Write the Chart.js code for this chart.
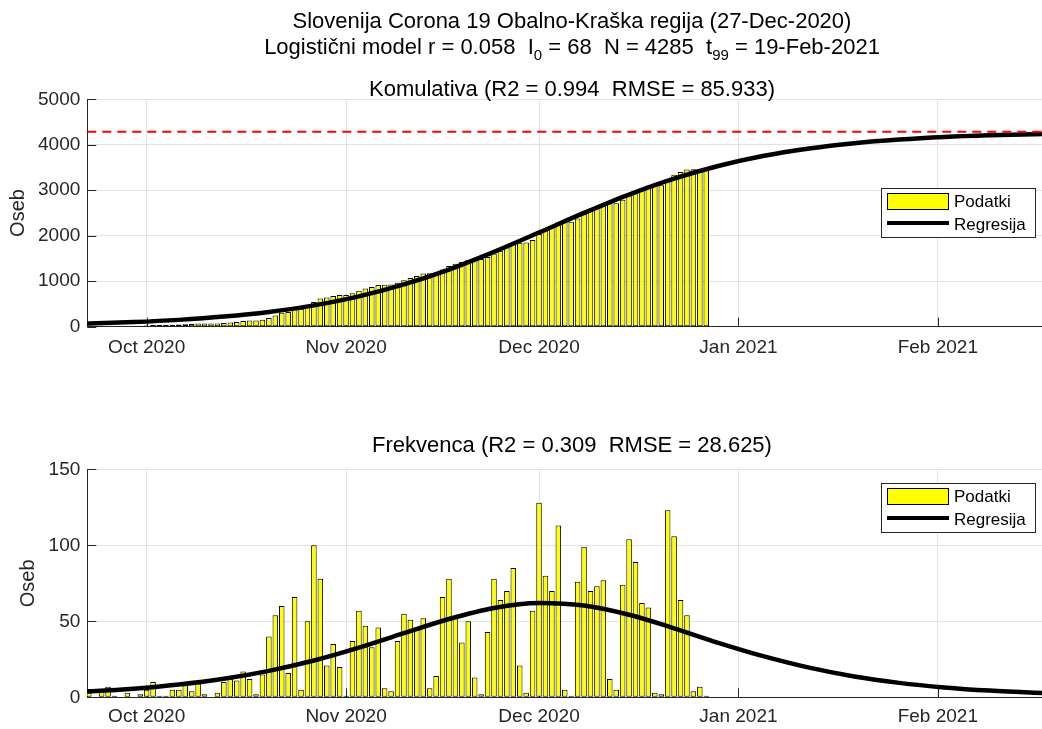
<!DOCTYPE html>
<html><head><meta charset="utf-8">
<script src="https://cdn.jsdelivr.net/npm/chart.js@4.4.1/dist/chart.umd.min.js"></script>
<style>
html,body{margin:0;padding:0;background:#fff;overflow:hidden;width:1042px;height:729px;}
#wrap{position:relative;width:1042px;height:729px;overflow:hidden;}
canvas{position:absolute;left:0;}
.t{position:absolute;left:72px;width:1000px;text-align:center;font-family:'Liberation Sans',Arial,sans-serif;font-size:22px;line-height:26px;color:#000;white-space:pre;}
.t sub{font-size:15px;line-height:0;vertical-align:-6px;}
</style></head>
<body><div id="wrap">
<canvas id="c1" width="1057" height="370" style="top:0;width:1057px;height:370px"></canvas>
<canvas id="c2" width="1057" height="329" style="top:400px;width:1057px;height:329px"></canvas>
<div class="t" style="top:8px">Slovenija Corona 19 Obalno-Kraška regija (27-Dec-2020)</div>
<div class="t" style="top:34px">Logistični model r = 0.058  I<sub>0</sub> = 68  N = 4285  t<sub>99</sub> = 19-Feb-2021</div>
<div class="t" style="top:76px">Komulativa (R2 = 0.994  RMSE = 85.933)</div>
<div class="t" style="top:432px">Frekvenca (R2 = 0.309  RMSE = 28.625)</div>
</div>
<script>
// ---- data ----
const ORIGIN = '2020-09-22';           // model day 0 (t0)
const dates = [
 '2020-09-22','2020-09-23','2020-09-24','2020-09-25','2020-09-26','2020-09-27','2020-09-28','2020-09-29','2020-09-30',
 '2020-10-01','2020-10-02','2020-10-03','2020-10-04','2020-10-05','2020-10-06','2020-10-07','2020-10-08','2020-10-09','2020-10-10',
 '2020-10-11','2020-10-12','2020-10-13','2020-10-14','2020-10-15','2020-10-16','2020-10-17','2020-10-18','2020-10-19','2020-10-20',
 '2020-10-21','2020-10-22','2020-10-23','2020-10-24','2020-10-25','2020-10-26','2020-10-27','2020-10-28','2020-10-29','2020-10-30','2020-10-31',
 '2020-11-01','2020-11-02','2020-11-03','2020-11-04','2020-11-05','2020-11-06','2020-11-07','2020-11-08','2020-11-09','2020-11-10',
 '2020-11-11','2020-11-12','2020-11-13','2020-11-14','2020-11-15','2020-11-16','2020-11-17','2020-11-18','2020-11-19','2020-11-20',
 '2020-11-21','2020-11-22','2020-11-23','2020-11-24','2020-11-25','2020-11-26','2020-11-27','2020-11-28','2020-11-29','2020-11-30',
 '2020-12-01','2020-12-02','2020-12-03','2020-12-04','2020-12-05','2020-12-06','2020-12-07','2020-12-08','2020-12-09','2020-12-10',
 '2020-12-11','2020-12-12','2020-12-13','2020-12-14','2020-12-15','2020-12-16','2020-12-17','2020-12-18','2020-12-19','2020-12-20',
 '2020-12-21','2020-12-22','2020-12-23','2020-12-24','2020-12-25','2020-12-26','2020-12-27'
];
const cumulative = [
 3,3,7,14,15,15,18,18,20,
 25,35,36,37,42,47,55,59,68,70, 70,73,83,95,106,123,135,137,152,192, 246,306,322,388,393,443,543,621,642,677,697,
 698,735,792,839,872,918,924,928,965,1020, 1071,1117,1169,1175,1189,1255,1333,1386,1422,1472, 1485,1487,1530,1608,1672,1742,1827,1848,1851,1908,
 2036,2116,2186,2299,2304,2305,2381,2480,2550,2623, 2700,2712,2717,2791,2895,2984,3046,3105,3108,3110, 3233,3339,3403,3457,3461,3468,3469
];
const daily = [
 3,0,4,7,1,0,3,0,2,
 5,10,1,1,5,5,8,4,9,2, 0,3,10,12,11,17,12,2,15,40, 54,60,16,66,5,50,100,78,21,35,20,
 1,37,57,47,33,46,6,4,37,55, 51,46,52,6,14,66,78,53,36,50, 13,2,43,78,64,70,85,21,3,57,
 128,80,70,113,5,1,76,99,70,73, 77,12,5,74,104,89,62,59,3,2, 123,106,64,54,4,7,1
];
// regression curves (days after ORIGIN)
const fitDay  = [-1, 0, 7, 14, 21, 28, 35, 42, 49, 56, 63, 70, 77, 84, 91, 98, 105, 112, 119, 126, 133, 140, 147, 151];
const fitCum  = [64, 68, 101, 150, 222, 324, 469, 667, 929, 1257, 1645, 2071, 2502, 2905, 3255, 3539, 3757, 3918, 4034, 4114, 4170, 4207, 4233, 4244];
const fitFreq = [3.7, 3.9, 5.7, 8.4, 12.2, 17.4, 24.2, 32.7, 42.2, 51.5, 58.8, 62.1, 60.4, 54.3, 45.4, 35.7, 26.9, 19.5, 13.7, 9.5, 6.5, 4.4, 3.0, 2.4];
const capacityN = 4285;
const tickDates  = ['2020-10-01','2020-11-01','2020-12-01','2021-01-01','2021-02-01'];
const tickLabels = ['Oct 2020','Nov 2020','Dec 2020','Jan 2021','Feb 2021'];
const legendLabels = ['Podatki','Regresija'];

// ---- helpers ----
const DAY = 86400000;
const toDay = d => (Date.parse(d + 'T00:00:00Z') - Date.parse(ORIGIN + 'T00:00:00Z')) / DAY;
const xDays = dates.map(toDay);
const tickDays = tickDates.map(toDay);
const X_MIN = -0.23, X_MAX = 150.53;

Chart.defaults.font.family = "'Liberation Sans', Arial, Helvetica, sans-serif";
Chart.defaults.color = '#262626';
const GRID = '#e2e2e2';
const AX = '#262626';

const inwardTicks = {
  id: 'inwardTicks',
  beforeDatasetsDraw(chart) {
    const {ctx, chartArea: a, scales: {x, y}} = chart;
    ctx.save();
    ctx.strokeStyle = AX; ctx.lineWidth = 1;
    ctx.beginPath();
    y.ticks.forEach(t => { const py = Math.round(y.getPixelForValue(t.value)) + 0.5; ctx.moveTo(a.left, py); ctx.lineTo(a.left + 9, py); });
    x.ticks.forEach(t => { const px = Math.round(x.getPixelForValue(t.value)) + 0.5; ctx.moveTo(px, a.bottom); ctx.lineTo(px, a.bottom - 9); });
    ctx.stroke();
    ctx.restore();
  }
};

const boxLegend = {
  id: 'boxLegend',
  afterDatasetsDraw(chart, args, o) {
    if (!o || !o.show) return;
    const ctx = chart.ctx, a = chart.chartArea;
    const L = o.left, T = Math.round(a.top + o.top), W = 155, H = 50;
    ctx.save();
    ctx.fillStyle = '#fff'; ctx.fillRect(L, T, W, H);
    ctx.strokeStyle = AX; ctx.lineWidth = 1; ctx.strokeRect(L + 0.5, T + 0.5, W - 1, H - 1);
    ctx.fillStyle = '#ffff00'; ctx.fillRect(L + 6, T + 5, 61, 16);
    ctx.strokeStyle = '#000'; ctx.strokeRect(L + 6.5, T + 5.5, 61, 16);
    ctx.beginPath(); ctx.lineWidth = 4; ctx.moveTo(L + 6, T + 35); ctx.lineTo(L + 68, T + 35); ctx.stroke();
    ctx.fillStyle = '#000';
    ctx.font = "17px 'Liberation Sans', Arial, sans-serif";
    ctx.textBaseline = 'middle'; ctx.textAlign = 'left';
    ctx.fillText(o.labels[0], L + 73, T + 14);
    ctx.fillText(o.labels[1], L + 73, T + 37);
    ctx.restore();
  }
};

function buildChart(id, cfg) {
  const datasets = [
    { type: 'bar', label: legendLabels[0], data: xDays.map((d, i) => ({x: d, y: cfg.values[i]})),
      backgroundColor: '#ffff00', borderColor: '#000', borderWidth: 1, borderSkipped: false,
      barPercentage: 0.86, categoryPercentage: 1, order: 3 },
    { type: 'line', label: legendLabels[1], data: fitDay.map((d, i) => ({x: d, y: cfg.fit[i]})),
      borderColor: '#000', borderWidth: 4.5, pointRadius: 0, cubicInterpolationMode: 'monotone', fill: false, order: 2,
      clip: {left: 0, top: false, right: false, bottom: false} }
  ];
  if (cfg.capacity) {
    datasets.push({ type: 'line', label: 'N', data: [{x: X_MIN, y: cfg.capacity}, {x: X_MAX, y: cfg.capacity}],
      borderColor: '#ff0000', borderWidth: 2, borderDash: [9, 6], pointRadius: 0, fill: false, order: 1 });
  }
  return new Chart(document.getElementById(id), {
    type: 'bar',
    data: { datasets },
    options: {
      responsive: false, animation: false, devicePixelRatio: 1,
      layout: { padding: { top: cfg.padTop, left: 0, right: 0, bottom: 0 } },
      plugins: {
        legend: { display: false }, tooltip: { enabled: false }, title: { display: false },
        boxLegend: { show: true, left: 881, top: cfg.legendTop, labels: legendLabels }
      },
      scales: {
        x: {
          type: 'linear', min: X_MIN, max: X_MAX, offset: false,
          grid: { color: GRID, drawTicks: false, offset: false },
          border: { color: AX, width: 1 },
          afterBuildTicks: s => { s.ticks = tickDays.map(v => ({value: v})); },
          ticks: { padding: cfg.xPad, maxRotation: 0, autoSkip: false, font: { size: 19 }, color: AX,
                   callback: v => { const i = tickDays.indexOf(v); return i >= 0 ? tickLabels[i] : ''; } },
          afterFit: s => { s.height = cfg.xH; }
        },
        y: {
          type: 'linear', min: 0, max: cfg.yMax,
          grid: { color: GRID, drawTicks: false },
          border: { color: AX, width: 1 },
          ticks: { stepSize: cfg.yStep, padding: 7, font: { size: 19 }, color: AX, callback: v => String(v) },
          title: { display: true, text: 'Oseb', font: { size: 20 }, color: AX, padding: { top: cfg.yTitlePad, bottom: 0 } },
          afterFit: s => { s.width = 87.3; }
        }
      }
    },
    plugins: [inwardTicks, boxLegend]
  });
}

buildChart('c1', { values: cumulative, fit: fitCum, capacity: capacityN, yMax: 5000, yStep: 1000,
                   padTop: 99.3, xH: 43.3, xPad: 10, legendTop: 89, yTitlePad: 6 });
buildChart('c2', { values: daily, fit: fitFreq, capacity: null, yMax: 150, yStep: 50,
                   padTop: 69.3, xH: 31.7, xPad: 8, legendTop: 13.4, yTitlePad: 16 });
</script>
</body></html>
